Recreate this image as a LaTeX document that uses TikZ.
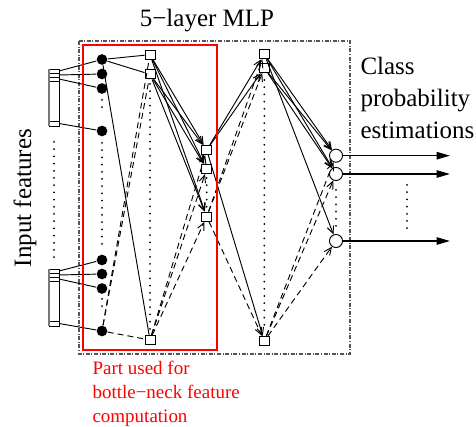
\documentclass[tikz,border=0pt]{standalone}
\usepackage{fontspec}
\setmainfont{Liberation Serif}
\usetikzlibrary{arrows.meta}

\tikzset{every picture/.style={line width=0.75pt}}
\tikzset{
  inunit/.style={circle, fill=black, inner sep=0pt, minimum size=8pt},
  hidunit/.style={rectangle, draw, fill=white, inner sep=0pt, minimum width=7.5pt, minimum height=7pt, line width=0.7pt},
  outunit/.style={circle, draw, fill=white, inner sep=0pt, minimum size=9.8pt, line width=0.7pt},
  wsolid/.style={line width=0.7pt},
  wdash/.style={line width=0.7pt, dash pattern={on 4.5pt off 3pt}},
  wdots/.style={line width=1.5pt, line cap=round, dash pattern={on 0pt off 5.4pt}},
  arr/.style={-{Straight Barb[length=5.5pt,width=5pt]}},
  outarrow/.style={line width=1.2pt, -{Triangle[length=10pt,width=5.5pt]}},
  bigtext/.style={font=\fontsize{18.75}{24}\selectfont},
}

\begin{document}
\begin{tikzpicture}[x=0.75pt,y=0.75pt,yscale=-1,xscale=1]
    \useasboundingbox (0,0) rectangle (476,427);
    
    %Shape: Rectangle (whole MLP)
    \draw [color={rgb, 255:red, 85; green, 85; blue, 85 }, line width=0.9pt, dash pattern={on 3pt off 1.2pt on 0.75pt off 1.2pt}] (79,41) rectangle (350,354);
    
    %Shape: input blocks
    \draw [line width=0.7pt] (49,69) rectangle (59,126);
    \draw [line width=0.7pt] (49,73) -- (59,73) (49,77) -- (59,77) (49,81) -- (59,81) (49,121) -- (59,121);
    \draw [color={rgb, 255:red, 120; green, 120; blue, 120 }, line width=1.4pt] (49,69) -- (49,126);
    \draw [line width=0.7pt] (49,269) rectangle (59,326);
    \draw [line width=0.7pt] (49,273) -- (59,273) (49,277) -- (59,277) (49,281) -- (59,281) (49,321) -- (59,321);
    \draw [color={rgb, 255:red, 120; green, 120; blue, 120 }, line width=1.4pt] (49,269) -- (49,326);
    \coordinate (i1) at (59,71);
    \coordinate (i2) at (59,75);
    \coordinate (i3) at (59,79);
    \coordinate (i4) at (59,123.5);
    \coordinate (i5) at (59,271);
    \coordinate (i6) at (59,275);
    \coordinate (i7) at (59,279);
    \coordinate (i8) at (59,323.5);
    
    % Layer 1
    \node [inunit] (c1) at (102,59.5) {};
    \node [inunit] (c2) at (102,74) {};
    \node [inunit] (c3) at (102,88.5) {};
    \node [inunit] (c4) at (102,131) {};
    \node [inunit] (c5) at (102,260) {};
    \node [inunit] (c6) at (102,274) {};
    \node [inunit] (c7) at (102,288.5) {};
    \node [inunit] (c8) at (102,331) {};
    % Layer 2
    \node [hidunit] (s1) at (150,54.7) {};
    \node [hidunit] (s2) at (150,74.3) {};
    \node [hidunit] (sn) at (150,340) {};
    % Layer 3 (bottle-neck)
    \node [hidunit] (b1) at (206.7,150) {};
    \node [hidunit] (b2) at (206.7,169) {};
    \node [hidunit] (b3) at (206.7,216.7) {};
    % Layer 4
    \node [hidunit] (t1) at (264.3,54.2) {};
    \node [hidunit] (t2) at (264.3,68) {};
    \node [hidunit] (tn) at (264.3,341) {};
    % Layer 5
    \node [outunit] (o1) at (336,155.7) {};
    \node [outunit] (o2) at (336,174) {};
    \node [outunit] (o3) at (336,241) {};
    \coordinate (e1) at (450,155.7);
    \coordinate (e2) at (450,174);
    \coordinate (e3) at (450,241);
    
    %Straight Lines: inputs
    \draw [wsolid] (i1) -- (c1);
    \draw [wsolid] (i2) -- (c2);
    \draw [wsolid] (i3) -- (c3);
    \draw [wsolid] (i4) -- (c4);
    \draw [wsolid] (i5) -- (c5);
    \draw [wsolid] (i6) -- (c6);
    \draw [wsolid] (i7) -- (c7);
    \draw [wsolid] (i8) -- (c8);
    
    %Straight Lines: layer 1 -> 2
    \draw [wsolid] (c1) -- (s1);
    \draw [wsolid] (c1) -- (s2);
    \draw [wsolid] (c1) -- (sn);
    \draw [wdash] (c8) -- (s1);
    \draw [wdash] (c8) -- (s2);
    \draw [wdash] (c8) -- (sn);
    
    %Straight Lines: layer 2 -> 3
    \draw [wsolid, arr] (s1) -- (b1);
    \draw [wsolid, arr] (s1) -- (b2);
    \draw [wsolid, arr] (s1) -- (b3);
    \draw [wsolid, arr] (s2) -- (b1);
    \draw [wsolid, arr] (s2) -- (b2);
    \draw [wsolid, arr] (s2) -- (b3);
    \draw [wdash, arr] (sn) -- (b1);
    \draw [wdash, arr] (sn) -- (b2);
    \draw [wdash, arr] (sn) -- (b3);
    
    %Straight Lines: layer 3 -> 4
    \draw [wsolid, arr] (b1) -- (t1);
    \draw [wsolid, arr] (b1) -- (t2);
    \draw [wsolid, arr] (b1) -- (tn);
    \draw [wdash, arr] (b3) -- (t1);
    \draw [wdash, arr] (b3) -- (t2);
    \draw [wdash, arr] (b3) -- (tn);
    
    %Straight Lines: layer 4 -> 5
    \draw [wsolid, arr] (t1) -- (o1);
    \draw [wsolid, arr] (t1) -- (o2);
    \draw [wsolid, arr] (t1) -- (o3);
    \draw [wsolid, arr] (t2) -- (o1);
    \draw [wsolid, arr] (t2) -- (o2);
    \draw [wdash, arr] (tn) -- (o1);
    \draw [wdash, arr] (tn) -- (o2);
    \draw [wdash, arr] (tn) -- (o3);
    
    %Straight Lines: outputs
    \draw [outarrow] (o1) -- (e1);
    \draw [outarrow] (o2) -- (e2);
    \draw [outarrow] (o3) -- (e3);
    
    %Dots
    \draw [wdots] (54,142) -- (54,258);
    \draw [wdots] (102,100) -- (102,110);
    \draw [wdots] (102,143) -- (102,250);
    \draw [wdots] (102,299) -- (102,309);
    \draw [wdots] (150,84) -- (150,330);
    \draw [wdots] (206.7,178) -- (206.7,208);
    \draw [wdots] (264.3,80) -- (264.3,330);
    \draw [wdots] (336,190) -- (336,228);
    \draw [wdots] (407,185) -- (407,230);
    
    %Shape: Rectangle (bottle-neck part)
    \draw [color=red, line width=1.1pt] (83,45) rectangle (217,350);
    
    % Text Node
    \node [bigtext, anchor=base] (title) at (207,26.5) {5\char"2212 layer MLP};
    % Text Node
    \node [bigtext, rotate=90] (inputs) at (25,198) {Input features};
    % Text Node
    \node [bigtext, anchor=north west, align=left, inner sep=0pt] (classes) at (360,57) {Class\\probability\\estimations};
    % Text Node
    \node [red, font=\fontsize{14.25}{18}\selectfont, anchor=north west, align=left, inner sep=0pt] (bneck) at (92,360.3) {Part used for\\bottle\char"2212 neck feature\\computation};
    
\end{tikzpicture}
\end{document}
